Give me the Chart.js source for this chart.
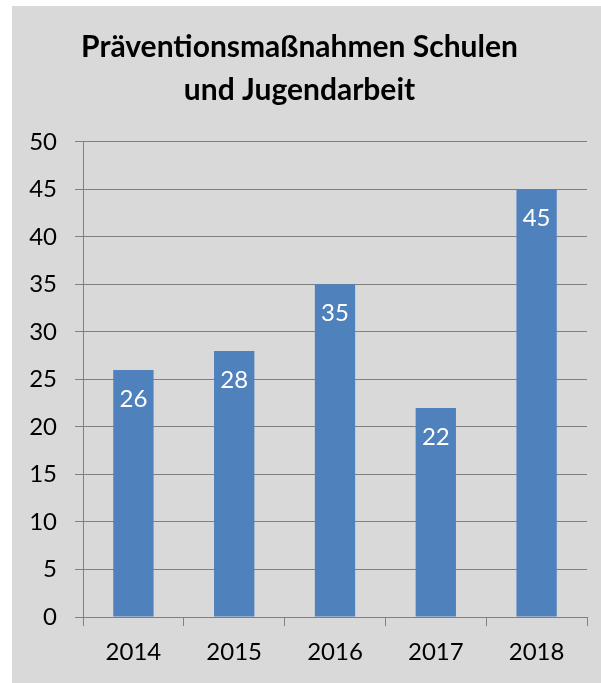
<!DOCTYPE html>
<html>
<head>
<meta charset="utf-8">
<script src="https://cdn.jsdelivr.net/npm/chart.js@4"></script>
<style>
  html, body { margin: 0; padding: 0; background: #ffffff; }
  #wrap { position: absolute; left: 12px; top: 6px; width: 589px; height: 677px; background: #d9d9d9; }
  canvas { display: block; }
</style>
</head>
<body>
<div id="wrap"><canvas id="chart" width="589" height="677"></canvas></div>
<script>
  'use strict';

  var years = ['2014', '2015', '2016', '2017', '2018'];
  var measures = [26, 28, 35, 22, 45];
  var titleLines = ['Präventionsmaßnahmen Schulen', 'und Jugendarbeit'];

  var FONT = "Lato, 'Open Sans', sans-serif";
  var GRID = '#808080';

  // white value labels inside the top of each bar
  var valueLabels = {
    id: 'valueLabels',
    afterDatasetsDraw: function(chart) {
      var ctx = chart.ctx;
      var meta = chart.getDatasetMeta(0);
      ctx.save();
      ctx.fillStyle = '#ffffff';
      ctx.font = '24px ' + FONT;
      ctx.textAlign = 'center';
      ctx.textBaseline = 'middle';
      meta.data.forEach(function(bar, i) {
        ctx.fillText(String(chart.data.datasets[0].data[i]), bar.x, bar.y + 29);
      });
      ctx.restore();
    }
  };

  var chart = new Chart(document.getElementById('chart').getContext('2d'), {
    type: 'bar',
    data: {
      labels: years,
      datasets: [{
        data: measures,
        backgroundColor: '#4f81bd',
        borderWidth: 0,
        barPercentage: 0.4,
        categoryPercentage: 1
      }]
    },
    options: {
      responsive: false,
      animation: false,
      layout: { padding: { left: 0, right: 14, top: 0, bottom: 0 } },
      plugins: {
        legend: { display: false },
        tooltip: { enabled: false },
        title: {
          display: true,
          text: titleLines,
          color: '#000000',
          font: { family: FONT, size: 30, weight: 'bold', lineHeight: 1.43 },
          padding: { top: 20, bottom: 30 }
        }
      },
      scales: {
        x: {
          offset: true,
          grid: {
            offset: true,
            drawOnChartArea: false,
            drawTicks: true,
            tickLength: 9,
            color: GRID
          },
          border: { color: GRID, width: 1 },
          ticks: { color: '#000000', font: { family: FONT, size: 24 }, padding: 12 },
          afterFit: function(scale) { scale.height = 66; }
        },
        y: {
          min: 0,
          max: 50,
          grid: { color: GRID, tickLength: 8, lineWidth: 1 },
          border: { color: GRID, width: 1 },
          ticks: { stepSize: 5, color: '#000000', font: { family: FONT, size: 24 }, padding: 18 },
          afterFit: function(scale) { scale.width = 71; }
        }
      }
    },
    plugins: [valueLabels]
  });
</script>
</body>
</html>
